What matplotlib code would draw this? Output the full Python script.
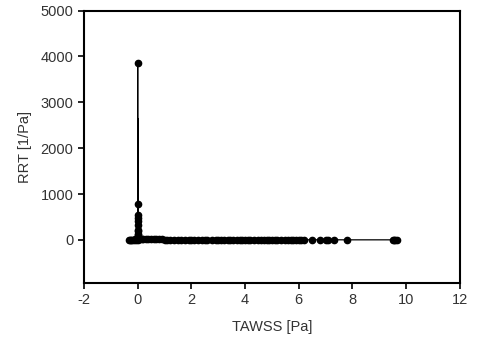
import matplotlib
matplotlib.use("Agg")
import matplotlib.pyplot as plt
import numpy as np

plt.rcParams['font.family'] = ['Liberation Sans', 'DejaVu Sans']
plt.rcParams['axes.unicode_minus'] = False

# TAWSS [Pa] and RRT [1/Pa], sorted by TAWSS
tawss = [-0.32, -0.28, -0.24, -0.2, -0.15, -0.1, -0.06, -0.03,
         0.0, 0.0, 0.0, 0.0, 0.0, 0.0, 0.0, 0.0, 0.0, 0.0, 0.0, 0.0,
         0.03, 0.06, 0.1, 0.15, 0.2, 0.3, 0.4, 0.5, 0.6, 0.7, 0.8, 0.9,
         1.0, 1.1, 1.2, 1.35, 1.5, 1.6, 1.75, 1.9, 2.0, 2.1, 2.25, 2.4,
         2.5, 2.6, 2.75, 2.9, 3.0, 3.1, 3.2, 3.35, 3.45, 3.55, 3.7, 3.8,
         3.9, 4.0, 4.1, 4.2, 4.35, 4.5, 4.6, 4.7, 4.8, 4.9, 5.0, 5.1,
         5.2, 5.35, 5.5, 5.6, 5.7, 5.8, 5.9, 6.0, 6.1, 6.2,
         6.5, 6.8, 7.0, 7.1, 7.3, 7.8, 9.5, 9.55, 9.6, 9.65]
rrt = [0, 5, 0, 8, 2, 10, 5, 20,
       0, 3856, 100, 2650, 200, 784, 550, 480, 420, 330, 220, 120,
       60, 40, 30, 25, 20, 18, 15, 14, 12, 11, 10, 9,
       8, 8, 7, 7, 6, 6, 6, 5, 5, 5, 5, 4,
       4, 4, 4, 4, 4, 3, 3, 3, 3, 3, 3, 3,
       3, 3, 3, 3, 2, 2, 2, 2, 2, 2, 2, 2,
       2, 2, 2, 2, 2, 2, 2, 2, 2, 2,
       2, 2, 2, 2, 2, 1, 1, 1, 1, 1]

# the 2650 return point is hidden under the line, no visible marker
marked = [i for i in range(len(rrt)) if rrt[i] != 2650]

fig = plt.figure(figsize=(4.8, 3.43), dpi=100)
ax = fig.add_axes([0.175, 0.175, 0.783, 0.794])
ax.plot(tawss, rrt, '-o', color='black', linewidth=0.9, markersize=4.5,
        markevery=marked)

ax.set_xlim(-2, 12)
ax.set_ylim(-940, 5000)
ax.set_xticks(np.arange(-2, 13, 2))
ax.set_yticks(np.arange(0, 5001, 1000))
ax.tick_params(direction='out', length=4, width=1.2, labelsize=10.5,
               labelcolor='#333333', top=False, right=False)
for s in ax.spines.values():
    s.set_linewidth(1.5)

ax.set_xlabel('TAWSS [Pa]', fontsize=10.5, color='#333333', labelpad=9)
ax.set_ylabel('RRT [1/Pa]', fontsize=10.5, color='#333333', labelpad=6)

fig.savefig('out.png', dpi=100)
